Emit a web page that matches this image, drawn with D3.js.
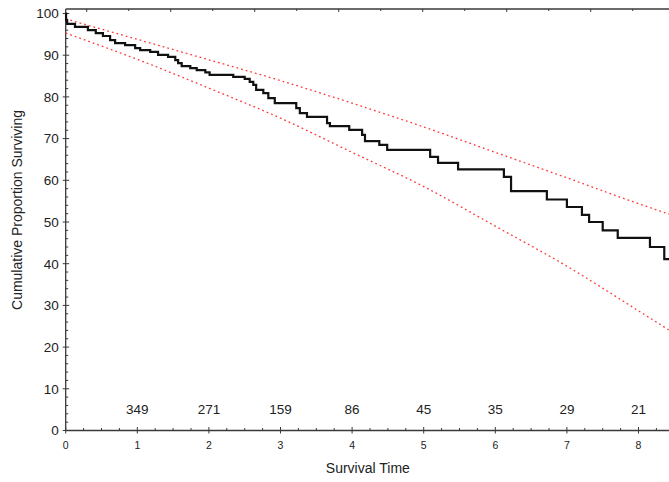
<!DOCTYPE html>
<html>
<head>
<meta charset="utf-8">
<script src="https://cdn.jsdelivr.net/npm/d3@7"></script>
<style>
  body { margin: 0; background: #fff; }
  svg { display: block; font-family: Arial, "Liberation Sans", sans-serif; }
</style>
</head>
<body>
<div id="chart"></div>
<script>
// Kaplan-Meier step curve: time of each drop and proportion surviving after it
const kmTimes = [0, 0.005, 0.02, 0.13, 0.31, 0.42, 0.52, 0.62, 0.69, 0.83, 0.97, 1.04, 1.18, 1.29, 1.43, 1.53, 1.57, 1.62, 1.74, 1.83, 1.95, 2.01, 2.34, 2.50, 2.57, 2.62, 2.66, 2.76, 2.83, 2.92, 3.22, 3.27, 3.37, 3.65, 3.69, 3.96, 4.14, 4.18, 4.38, 4.49, 5.09, 5.20, 5.48, 6.12, 6.22, 6.72, 7.00, 7.21, 7.31, 7.50, 7.71, 8.16, 8.36, 8.6]
const kmValues = [100, 98.4, 97.5, 96.8, 96.0, 95.3, 94.6, 93.6, 92.9, 92.4, 91.7, 91.2, 90.8, 90.1, 89.6, 88.8, 88.1, 87.4, 86.9, 86.4, 85.9, 85.3, 84.8, 84.3, 83.6, 82.9, 81.7, 80.9, 79.7, 78.5, 77.3, 76.1, 75.2, 73.7, 73.0, 72.1, 70.9, 69.4, 68.5, 67.3, 65.6, 64.2, 62.6, 60.8, 57.4, 55.4, 53.6, 51.7, 50.0, 48.0, 46.2, 44.0, 41.1, 41.1]

// confidence bands
const ciTimes = [0, 1, 2, 3, 4, 5, 6, 7, 8, 8.6]
const ciUpper = [98.7, 93.8, 88.9, 83.9, 78.5, 72.8, 66.7, 60.6, 54.4, 50.9]
const ciLower = [95.3, 89.0, 82.1, 74.9, 66.7, 58.5, 49.0, 39.4, 28.7, 22.2]

// number at risk
const riskTimes = [1, 2, 3, 4, 5, 6, 7, 8]
const riskCounts = [349, 271, 159, 86, 45, 35, 29, 21]

const xTicks = [0, 1, 2, 3, 4, 5, 6, 7, 8]
const yTicks = [0, 10, 20, 30, 40, 50, 60, 70, 80, 90, 100]

const width = 669, height = 482
const margin = {left: 65.7, top: 9, bottom: 51.5}

const x = d3.scaleLinear().domain([0, 9]).range([margin.left, margin.left + 9 * 71.6])
const y = d3.scaleLinear().domain([0, 100]).range([height - margin.bottom, 13.5])
// top frame has its own tick spacing
const xTop = d3.scaleLinear().domain([0, 15]).range([margin.left, margin.left + 15 * 42])

const svg = d3.select("#chart").append("svg")
    .attr("width", width)
    .attr("height", height)

const axisColor = "#3a3a3a"

// frame lines
svg.append("line")
    .attr("x1", x(0)).attr("x2", width)
    .attr("y1", y(0)).attr("y2", y(0))
    .attr("stroke", axisColor).attr("stroke-width", 1.3)
svg.append("line")
    .attr("x1", x(0)).attr("x2", x(0))
    .attr("y1", margin.top).attr("y2", y(0))
    .attr("stroke", axisColor).attr("stroke-width", 1.3)
svg.append("line")
    .attr("x1", x(0)).attr("x2", width)
    .attr("y1", margin.top).attr("y2", margin.top)
    .attr("stroke", axisColor).attr("stroke-width", 1.3)

// x ticks
const xMinor = d3.range(0, 9.01, 0.25).filter(d => d % 1 != 0)
svg.append("g").selectAll("line")
    .data(xMinor).join("line")
    .attr("x1", d => x(d)).attr("x2", d => x(d))
    .attr("y1", y(0)).attr("y2", y(0) - 2.5)
    .attr("stroke", axisColor)
svg.append("g").selectAll("line")
    .data(xTicks).join("line")
    .attr("x1", d => x(d)).attr("x2", d => x(d))
    .attr("y1", y(0) + 3).attr("y2", y(0) - 3.5)
    .attr("stroke", axisColor)
svg.append("g").selectAll("text")
    .data(xTicks).join("text")
    .attr("x", d => x(d))
    .attr("y", y(0) + 18)
    .attr("text-anchor", "middle")
    .attr("font-size", 10.5)
    .attr("fill", "#222")
    .text(d => d)

// top ticks
const topTicks = d3.range(0.5, 14, 1)
svg.append("g").selectAll("line")
    .data(topTicks).join("line")
    .attr("x1", d => xTop(d)).attr("x2", d => xTop(d))
    .attr("y1", margin.top).attr("y2", (d, i) => margin.top + (i % 2 ? 2 : 3))
    .attr("stroke", axisColor)

// y ticks
const yMinor = d3.range(0, 100, 2).filter(d => d % 10 != 0)
svg.append("g").selectAll("line")
    .data(yMinor).join("line")
    .attr("x1", x(0)).attr("x2", x(0) + 2.5)
    .attr("y1", d => y(d)).attr("y2", d => y(d))
    .attr("stroke", axisColor)
svg.append("g").selectAll("line")
    .data(yTicks).join("line")
    .attr("x1", x(0) - 3).attr("x2", x(0) + 3.5)
    .attr("y1", d => y(d)).attr("y2", d => y(d))
    .attr("stroke", axisColor)
svg.append("g").selectAll("text")
    .data(yTicks).join("text")
    .attr("x", x(0) - 7)
    .attr("y", d => y(d))
    .attr("dy", "0.36em")
    .attr("text-anchor", "end")
    .attr("font-size", 13.5)
    .attr("fill", "#222")
    .text(d => d)

// axis titles
svg.append("text")
    .attr("x", (x(0) + width) / 2 + 0.5)
    .attr("y", 473)
    .attr("text-anchor", "middle")
    .attr("font-size", 14)
    .attr("fill", "#222")
    .text("Survival Time")
svg.append("text")
    .attr("transform", `translate(22, 210) rotate(-90)`)
    .attr("text-anchor", "middle")
    .attr("font-size", 14)
    .attr("fill", "#222")
    .text("Cumulative Proportion Surviving")

// number at risk
svg.append("g").selectAll("text")
    .data(riskTimes).join("text")
    .attr("x", d => x(d))
    .attr("y", y(5.15))
    .attr("dy", "0.36em")
    .attr("text-anchor", "middle")
    .attr("font-size", 13.5)
    .attr("fill", "#222")
    .text((d, i) => riskCounts[i])

// confidence band lines
const ciLine = d3.line()
    .x(d => x(d[0]))
    .y(d => y(d[1]))
    .curve(d3.curveMonotoneX)

for (const band of [ciUpper, ciLower]) {
    svg.append("path")
        .datum(ciTimes.map((t, i) => [t, band[i]]))
        .attr("d", ciLine)
        .attr("fill", "none")
        .attr("stroke", "#ff3a3a")
        .attr("stroke-width", 1.3)
        .attr("stroke-dasharray", "1.8 3")
}

// survival curve
const kmLine = d3.line()
    .x(d => x(d[0]))
    .y(d => y(d[1]))
    .curve(d3.curveStepAfter)

svg.append("path")
    .datum(kmTimes.map((t, i) => [t, kmValues[i]]))
    .attr("d", kmLine)
    .attr("fill", "none")
    .attr("stroke", "#111")
    .attr("stroke-width", 2.2)
</script>
</body>
</html>
